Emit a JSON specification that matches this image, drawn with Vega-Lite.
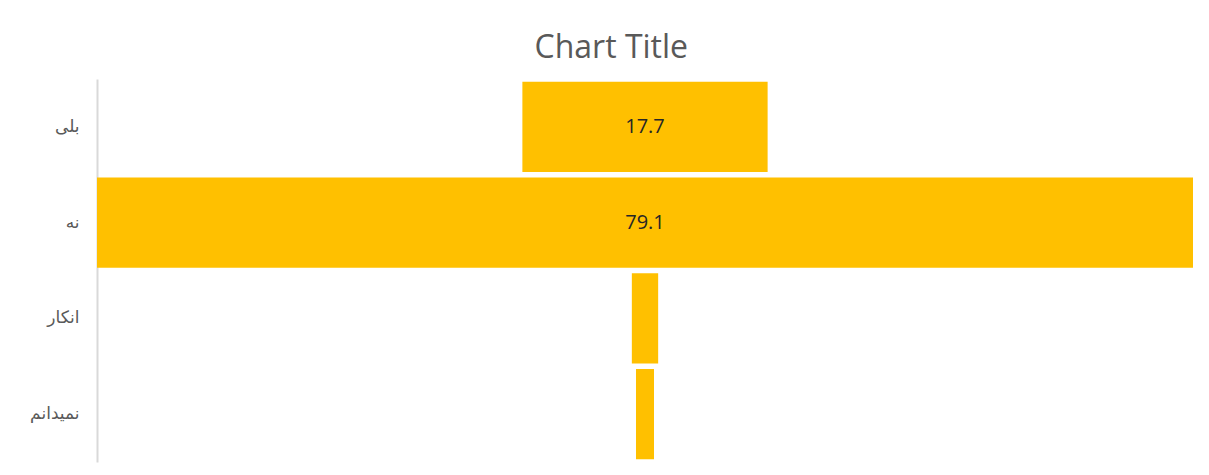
{
  "$schema": "https://vega.github.io/schema/vega-lite/v6.json",
  "width": 1096,
  "height": 383,
  "autosize": {"type": "none"},
  "padding": {"left": 97, "top": 79, "right": 16, "bottom": 13},
  "background": "white",
  "title": {
    "text": "Chart Title",
    "font": "Open Sans",
    "fontSize": 32,
    "fontWeight": "normal",
    "color": "#595959",
    "anchor": "middle",
    "frame": "bounds",
    "offset": 14
  },
  "data": {
    "values": [
      {"answer": "بلی", "v": 17.7},
      {"answer": "نه", "v": 79.1},
      {"answer": "انکار", "v": 1.9},
      {"answer": "نمیدانم", "v": 1.3}
    ]
  },
  "encoding": {
    "y": {
      "field": "answer",
      "type": "nominal",
      "sort": null,
      "scale": {"paddingInner": 0.06, "paddingOuter": 0.03},
      "axis": {
        "title": null,
        "ticks": false,
        "labelFont": "DejaVu Sans",
        "labelFontSize": 17,
        "labelColor": "#595959",
        "labelPadding": 18,
        "domainColor": "#d9d9d9",
        "domainWidth": 2
      }
    }
  },
  "layer": [
    {
      "mark": {"type": "bar", "color": "#FFC000"},
      "encoding": {
        "x": {
          "field": "v",
          "type": "quantitative",
          "stack": "center",
          "scale": {"domain": [0, 79.1], "nice": false, "zero": false},
          "axis": null
        }
      }
    },
    {
      "transform": [{"filter": "datum.v > 5"}],
      "mark": {"type": "text", "font": "Open Sans", "fontSize": 20, "color": "#262626", "align": "center", "baseline": "middle"},
      "encoding": {
        "x": {"datum": 39.55, "type": "quantitative"},
        "text": {"field": "v", "type": "quantitative", "format": ".1f"}
      }
    }
  ],
  "config": {"view": {"stroke": null}}
}
